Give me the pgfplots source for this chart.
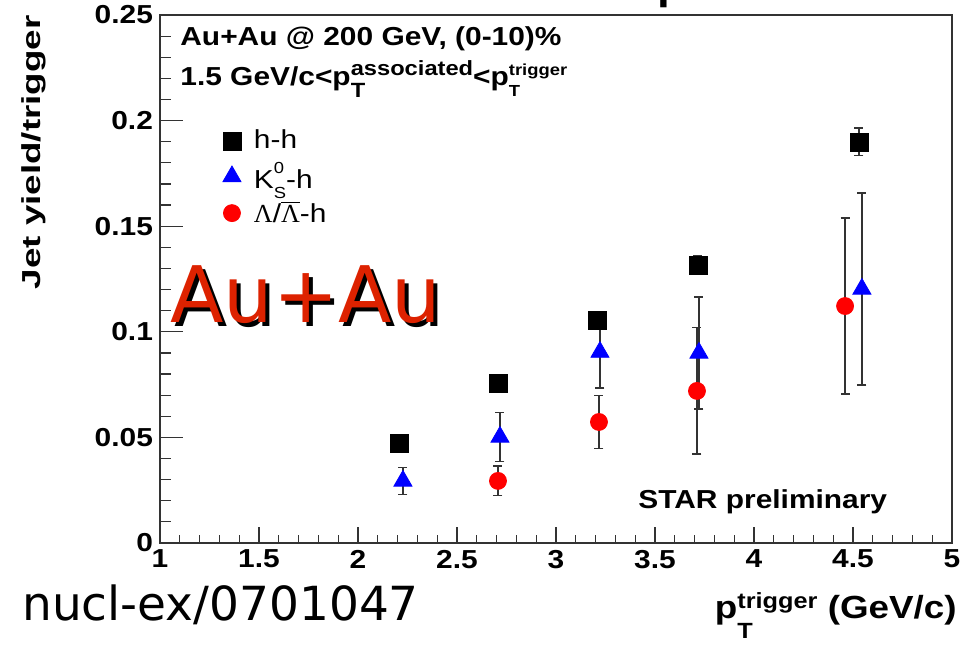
\documentclass[border=0pt]{standalone}
\usepackage{pgfplots}
\usepackage{pgfplotstable}
\pgfplotsset{compat=1.18}
\usepackage{fontspec}
\setmainfont{Liberation Sans}[FakeStretch=1.15]
\newfontfamily\djv{DejaVu Sans}
\newfontfamily\lserif{Liberation Serif}
\newcommand{\fs}[1]{\fontsize{#1}{#1}\selectfont}
\newlength\sslen
% stacked super/subscript: size, sup, sub, raise, lower
\newcommand{\supsub}[5]{%
  \setbox0=\hbox{\fs{#1}#2}\setbox2=\hbox{\fs{#1}#3}%
  \setlength\sslen{\wd0}\ifdim\wd2>\sslen\setlength\sslen{\wd2}\fi
  \rlap{\raisebox{#4}{\box0}}\rlap{\raisebox{-#5}{\box2}}\hspace{\sslen}}
\definecolor{aured}{RGB}{221,34,0}

% x, y, y error
\pgfplotstableread{
x y e
2.207 0.0473 0.0020
2.707 0.0758 0.0030
3.207 0.1056 0.0030
3.717 0.1316 0.0045
4.530 0.1899 0.0065
}\hh
\pgfplotstableread{
x y e
2.227 0.0294 0.0064
2.717 0.0502 0.0116
3.222 0.0904 0.0170
3.722 0.0900 0.0265
4.545 0.1203 0.0455
}\kh
\pgfplotstableread{
x y e
2.707 0.0294 0.0070
3.217 0.0573 0.0125
3.712 0.0720 0.0300
4.460 0.1122 0.0417
}\lh

\pgfplotsset{
  rootframe/.style={
    at={(0,0)}, anchor=south west, scale only axis,
    width=396pt, height=264pt,
    xmin=1, xmax=5, ymin=0, ymax=0.25,
    axis line style={black!80, line width=0.75pt},
    tick style={black!80, line width=0.6pt},
    tick align=inside,
    ticklabel style={font=\bfseries\fs{13}},
  },
  errs/.style={only marks, mark=none, forget plot,
    error bars/.cd, y dir=both, y explicit},
}

\begin{document}
\begin{tikzpicture}
% y ticks (longer tick marks)
\begin{axis}[rootframe,
  xtick=\empty,
  ytick={0,0.05,0.1,0.15,0.2,0.25},
  yticklabels={0,0.05,0.1,0.15,0.2,0.25},
  minor y tick num=4,
  ytick pos=left,
  major tick length=11.5pt, minor tick length=5.75pt,
]
\end{axis}
% data, x ticks and legend
\begin{axis}[rootframe,
  ytick=\empty,
  xtick={1,1.5,2,2.5,3,3.5,4,4.5,5},
  xticklabels={1,1.5,2,2.5,3,3.5,4,4.5,5},
  minor x tick num=4,
  xtick pos=left,
  major tick length=8pt, minor tick length=4pt,
  error bars/error bar style={line width=0.8pt, black!80},
  error bars/error mark options={rotate=90, mark size=2.25pt, line width=0.8pt, black!80},
  legend cell align=left,
  legend style={draw=none, fill=none, inner sep=0pt,
    at={(axis description cs:0.079,0.7905)}, anchor=north west,
    font=\fs{13}, row sep=1pt,
    /tikz/every odd column/.append style={column sep=4.5pt}},
]
% error bars first, markers on top
\addplot[errs] table[x=x, y=y, y error=e] {\hh};
\addplot[errs] table[x=x, y=y, y error=e] {\kh};
\addplot[errs] table[x=x, y=y, y error=e] {\lh};

\addplot[only marks, mark=square*, mark size=4.5pt, black,
  mark options={draw=black, fill=black}]
  table[x=x, y=y] {\hh};
\addlegendentry{h-h}
\addplot[only marks, mark=triangle*, mark size=5.2pt, blue,
  mark options={draw=blue, fill=blue}]
  table[x=x, y=y] {\kh};
\addlegendentry{K\supsub{8}{0}{S}{7.5pt}{5pt}-h}
\addplot[only marks, mark=*, mark size=4.25pt, red,
  mark options={draw=red, fill=red}]
  table[x=x, y=y] {\lh};
\addlegendentry{{\lserif Λ}/$\overline{\hbox{\lserif Λ}}$-h}
\end{axis}

% texts
\node[anchor=base, inner sep=0pt] at (256pt,272pt) {\bfseries\fs{20}p};
\node[anchor=base west, inner sep=0pt] at (10pt,248.5pt)
  {\bfseries\fs{13}Au+Au @ 200 GeV, (0-10)\%};
\node[anchor=base west, inner sep=0pt] at (10pt,229pt)
  {\bfseries\fs{13}1.5 GeV/c<p\supsub{10.3}{associated}{T}{5pt}{6pt}<p\supsub{8}{trigger}{T}{5pt}{5.5pt}};
\node[anchor=base west, inner sep=0pt] at (239pt,17.5pt)
  {\bfseries\fs{13}STAR preliminary};
\node[rotate=90, anchor=base east, inner sep=0pt] at (-59.7pt,264pt)
  {\scalebox{1.23}[1]{\bfseries\fs{13}Jet yield/trigger}};
\node[anchor=base east, inner sep=0pt] at (398.5pt,-37.5pt)
  {\bfseries\fs{16}p\supsub{11}{trigger}{T}{5pt}{10pt} (GeV/c)};
% overlay labels
\node[anchor=base west, inner sep=0pt, black] at (7pt,108.5pt)
  {\djv\fs{39}Au+Au};
\node[anchor=base west, inner sep=0pt, aured] at (5pt,110.5pt)
  {\djv\fs{39}Au+Au};
\node[anchor=base west, inner sep=0pt] at (-69pt,-38.5pt)
  {\djv\fs{23.5}nucl-ex/0701047};

\pgfresetboundingbox
\useasboundingbox (-80pt,-50.5pt) rectangle (408pt,271.5pt);
\end{tikzpicture}
\end{document}
